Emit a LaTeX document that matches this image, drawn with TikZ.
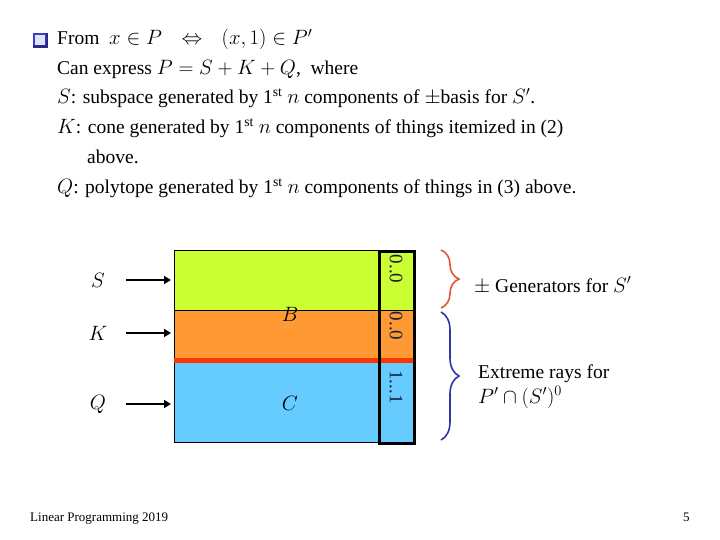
\documentclass[tikz,border=0pt]{standalone}
\usepackage{amsmath,amssymb}
\usepackage{fontspec}
\setmainfont{Liberation Serif}
\usetikzlibrary{arrows.meta,positioning,decorations.pathreplacing}
\definecolor{limeS}{RGB}{204,255,51}
\definecolor{orangeK}{RGB}{255,153,51}
\definecolor{blueQ}{RGB}{102,204,255}
\definecolor{redcut}{RGB}{255,51,0}
\definecolor{bracered}{RGB}{226,84,48}
\definecolor{braceblue}{RGB}{51,51,170}
\definecolor{bulletblue}{RGB}{60,60,200}
\definecolor{digitink}{RGB}{20,30,60}

\begin{document}
\begin{tikzpicture}[x=1pt,y=-1pt,
  txt/.style={anchor=base west, inner sep=0pt, font=\fontsize{19.5}{24}\selectfont},
  lbl/.style={inner sep=1pt, font=\fontsize{19.5}{24}\selectfont},
  region/.style={draw, line width=0.8pt, anchor=north west, inner sep=0pt, minimum width=239pt},
  digits/.style={rotate=-90, inner sep=0pt, text=digitink, font=\fontsize{19}{20}\selectfont},
  arrow/.style={line width=2.8pt,-{Triangle[length=7pt,width=8pt]}},
  brace/.style={line width=1.6pt, decorate, decoration={brace, amplitude=18pt}},
  foot/.style={anchor=base west, inner sep=0pt, font=\fontsize{13}{15}\selectfont}
]
\useasboundingbox (0,0) rectangle (720,540);

\node[draw=bulletblue, line width=1.5pt, fill=bulletblue!15, minimum size=12pt, inner sep=0pt] (bullet) at (40,40) {};
\draw[bulletblue!70!black, line width=2.5pt] (bullet.south west) -- (bullet.south east) -- (bullet.north east);
\node[txt] (l1) at (57,45) {From\ \ $x\in P$\quad$\Leftrightarrow$\quad$(x,1)\in P'$};
\node[txt] (l2) at (57,75) {Can express $P=S+K+Q$,\ \ where};
\node[txt] (l3) at (57,104) {$S$: subspace generated by 1\textsuperscript{st} $n$ components of $\pm$basis for $S'$.};
\node[txt] (l4) at (57,134) {$K$: cone generated by 1\textsuperscript{st} $n$ components of things itemized in (2)};
\node[txt] (l5) at (87,164) {above.};
\node[txt] (l6) at (57,194) {$Q$: polytope generated by 1\textsuperscript{st} $n$ components of things in (3) above.};

\node[region, fill=limeS, minimum height=60pt] (sreg) at (174,250) {};
\node[region, fill=orangeK, minimum height=50pt] (kreg) at (174,310) {};
\node[region, fill=blueQ, minimum height=82pt] (qreg) at (174,360) {};
\draw[redcut, line width=5pt] (kreg.south west) -- (kreg.south east);
\node[draw, line width=3pt, anchor=north west, inner sep=0pt, minimum width=35pt, minimum height=192pt] (col) at (378,250) {};

\node[digits] (z1) at (396,269) {0..0};
\node[digits] (z2) at (396,326) {0..0};
\node[digits] (o1) at (396,387) {1...1};
\node[lbl] (B) at (290,314) {$B$};
\node[lbl] (C) at (290,403) {$C$};

\node[lbl] (S) at (98,280) {$S$};
\node[lbl] (K) at (98,333) {$K$};
\node[lbl] (Q) at (98,404) {$Q$};
\draw[arrow, shorten <=28pt, shorten >=3pt] (S.center) -- (sreg.west |- S);
\draw[arrow, shorten <=28pt, shorten >=3pt] (K.center) -- (kreg.west |- K);
\draw[arrow, shorten <=28pt, shorten >=3pt] (Q.center) -- (qreg.west |- Q);

\coordinate (rtop) at (441,250);
\coordinate (rbot) at (441,308);
\coordinate (btop) at (441,312);
\coordinate (bbot) at (441,440);
\draw[brace, bracered] (rtop) -- (rbot);
\draw[brace, braceblue] (btop) -- (bbot);

\node[txt] (gen) at (474,292) {$\pm$ Generators for $S'$};
\node[txt] (ext) at (478,378) {Extreme rays for};
\node[txt] (ext2) at (478,403) {$P'\cap(S')^{0}$};

\node[foot] (course) at (30,521) {Linear Programming 2019};
\node[foot] (page) at (683,521) {5};
\end{tikzpicture}
\end{document}
